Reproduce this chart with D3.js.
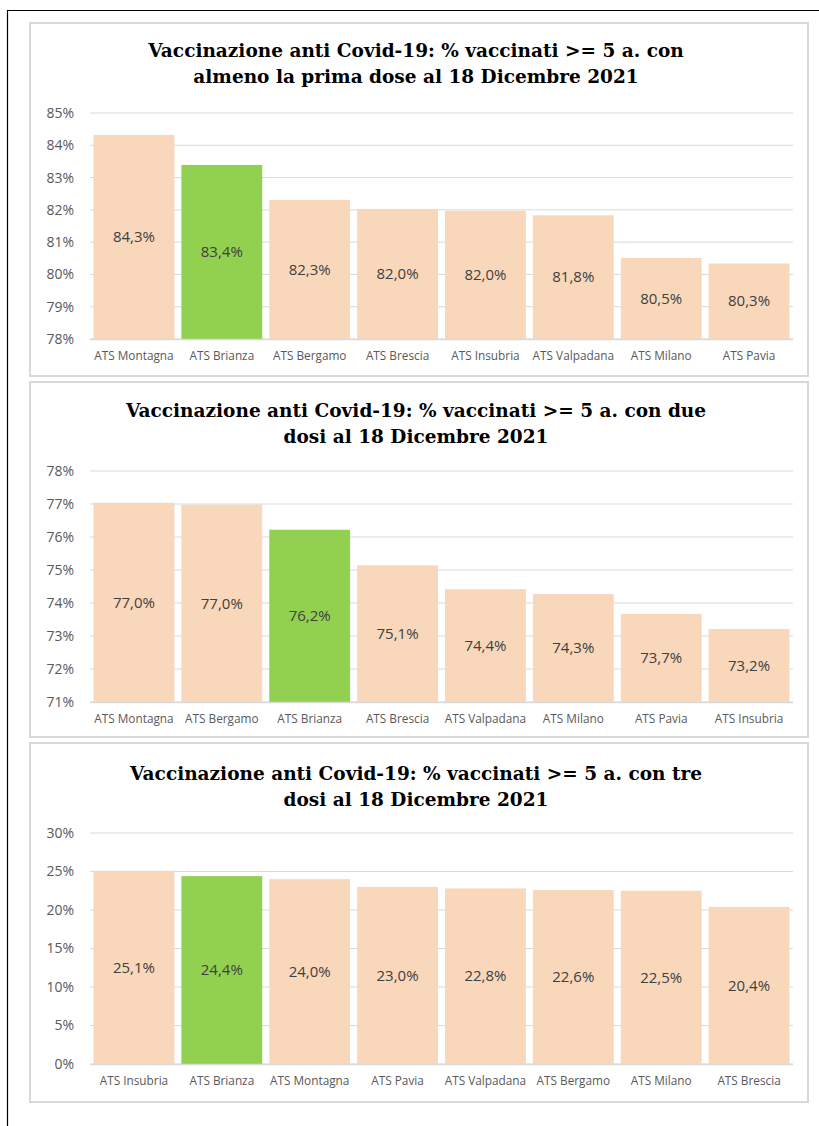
<!DOCTYPE html>
<html>
<head>
<meta charset="utf-8">
<script src="https://cdn.jsdelivr.net/npm/d3@7"></script>
<style>
  body { margin: 0; background: #fff; }
  svg { display: block; }
</style>
</head>
<body>
<svg id="chart" width="819" height="1126"></svg>
<script>
// prima dose
const cat1 = ["ATS Montagna", "ATS Brianza", "ATS Bergamo", "ATS Brescia", "ATS Insubria", "ATS Valpadana", "ATS Milano", "ATS Pavia"];
const val1 = [84.32, 83.39, 82.31, 82.03, 81.97, 81.83, 80.51, 80.34];
const ticks1 = [78, 79, 80, 81, 82, 83, 84, 85];

// due dosi
const cat2 = ["ATS Montagna", "ATS Bergamo", "ATS Brianza", "ATS Brescia", "ATS Valpadana", "ATS Milano", "ATS Pavia", "ATS Insubria"];
const val2 = [77.04, 76.98, 76.22, 75.14, 74.42, 74.27, 73.67, 73.21];
const ticks2 = [71, 72, 73, 74, 75, 76, 77, 78];

// tre dosi
const cat3 = ["ATS Insubria", "ATS Brianza", "ATS Montagna", "ATS Pavia", "ATS Valpadana", "ATS Bergamo", "ATS Milano", "ATS Brescia"];
const val3 = [25.1, 24.4, 24.0, 23.0, 22.8, 22.6, 22.5, 20.4];
const ticks3 = [0, 5, 10, 15, 20, 25, 30];

const titles = [
    ["Vaccinazione anti Covid-19: % vaccinati >= 5 a. con", "almeno la prima dose al 18 Dicembre 2021"],
    ["Vaccinazione anti Covid-19: % vaccinati >= 5 a. con due", "dosi al 18 Dicembre 2021"],
    ["Vaccinazione anti Covid-19: % vaccinati >= 5 a. con tre", "dosi al 18 Dicembre 2021"]
];

const highlight = "ATS Brianza";
const peach = "#F9D7BB";
const green = "#92D050";

const svg = d3.select("#chart");

// cornice esterna
svg.append("line").attr("x1", 7).attr("x2", 819).attr("y1", 10.5).attr("y2", 10.5)
    .attr("stroke", "#000").attr("stroke-width", 1.2);
svg.append("line").attr("x1", 7.5).attr("x2", 7.5).attr("y1", 10).attr("y2", 1126)
    .attr("stroke", "#000").attr("stroke-width", 1.2);

const panels = [
    { cats: cat1, vals: val1, ticks: ticks1, title: titles[0], top: 23, h: 353, plotTop: 90, plotH: 226, titleY: 28 },
    { cats: cat2, vals: val2, ticks: ticks2, title: titles[1], top: 382, h: 355, plotTop: 89, plotH: 231, titleY: 29 },
    { cats: cat3, vals: val3, ticks: ticks3, title: titles[2], top: 743, h: 359, plotTop: 90, plotH: 231, titleY: 31 }
];

const fmt = v => d3.format(".1f")(v).replace(".", ",") + "%";

panels.forEach(p => {
    const g = svg.append("g").attr("transform", `translate(0, ${p.top})`);

    g.append("rect")
        .attr("x", 30).attr("y", 0)
        .attr("width", 778).attr("height", p.h)
        .attr("fill", "#fff")
        .attr("stroke", "#d9d9d9").attr("stroke-width", 2);

    // titolo
    g.selectAll(".title")
        .data(p.title)
        .enter()
        .append("text")
        .attr("x", 416)
        .attr("y", (d, i) => p.titleY + i * 26)
        .attr("dy", "0.35em")
        .attr("text-anchor", "middle")
        .style("font-family", "'DejaVu Serif', serif")
        .style("font-weight", "bold")
        .style("font-size", "18.5px")
        .attr("fill", "#000")
        .text(d => d);

    const x = d3.scaleBand()
        .domain(p.cats)
        .range([90, 793])
        .paddingInner(0.08)
        .paddingOuter(0.04);

    const y = d3.scaleLinear()
        .domain(d3.extent(p.ticks))
        .range([p.plotTop + p.plotH, p.plotTop]);

    // griglia
    g.selectAll(".grid")
        .data(p.ticks)
        .enter()
        .append("line")
        .attr("x1", 90).attr("x2", 793)
        .attr("y1", d => y(d)).attr("y2", d => y(d))
        .attr("stroke", "#d9d9d9").attr("stroke-width", 1);

    // asse y
    const yAxis = g.append("g")
        .attr("transform", "translate(74, 0)")
        .call(d3.axisLeft(y).tickValues(p.ticks).tickSize(0).tickPadding(0).tickFormat(d => d + "%"));
    yAxis.select(".domain").remove();
    yAxis.selectAll("text")
        .style("font-family", "'Open Sans', sans-serif")
        .style("font-size", "14px")
        .attr("fill", "#595959");

    // barre
    g.selectAll(".bar")
        .data(p.vals)
        .enter()
        .append("rect")
        .attr("x", (d, i) => x(p.cats[i]))
        .attr("y", d => y(d))
        .attr("width", x.bandwidth())
        .attr("height", d => y(p.ticks[0]) - y(d))
        .attr("fill", (d, i) => p.cats[i] === highlight ? green : peach);

    // etichette valori
    g.selectAll(".lbl")
        .data(p.vals)
        .enter()
        .append("text")
        .attr("x", (d, i) => x(p.cats[i]) + x.bandwidth() / 2)
        .attr("y", d => (y(d) + y(p.ticks[0])) / 2)
        .attr("dy", "0.35em")
        .attr("text-anchor", "middle")
        .style("font-family", "'Open Sans', sans-serif")
        .style("font-size", "15px")
        .attr("fill", "#404040")
        .text(d => fmt(d));

    // asse x
    g.append("line")
        .attr("x1", 90).attr("x2", 793)
        .attr("y1", y(p.ticks[0]) + 0.5).attr("y2", y(p.ticks[0]) + 0.5)
        .attr("stroke", "#d9d9d9").attr("stroke-width", 1.5);

    const xAxis = g.append("g")
        .attr("transform", `translate(0, ${y(p.ticks[0])})`)
        .call(d3.axisBottom(x).tickSize(0).tickPadding(13));
    xAxis.select(".domain").remove();
    xAxis.selectAll("text")
        .style("font-family", "'Open Sans', sans-serif")
        .style("font-size", "11.8px")
        .attr("fill", "#595959");
});
</script>
</body>
</html>
